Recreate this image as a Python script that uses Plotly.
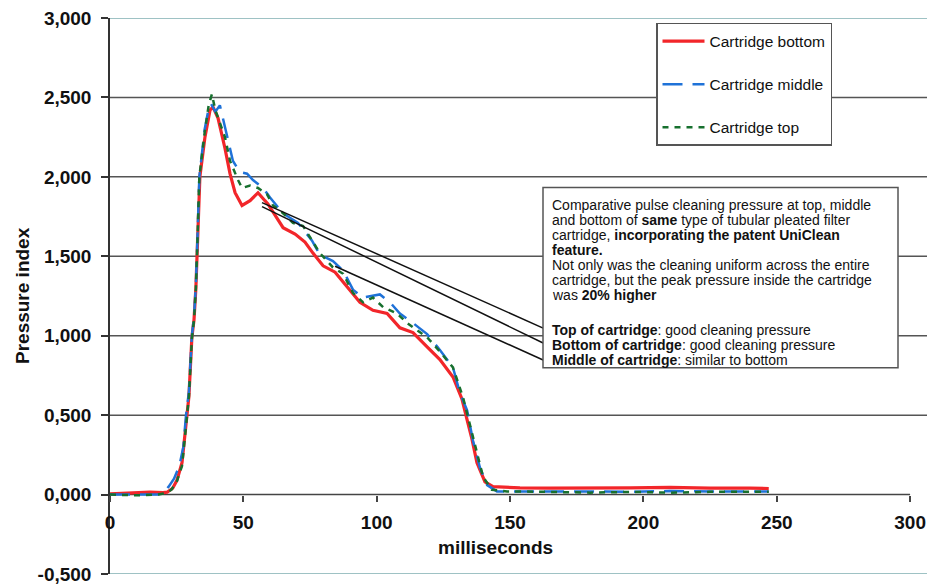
import plotly.graph_objects as go

# ---------------- data (ms, pressure index) ----------------
ms_bottom = [0, 8, 15, 19.9, 21.4, 23.5, 25.1, 27.0, 28.0, 28.8, 29.6, 30.7, 31.5, 32.2, 32.8,
             33.7, 35.6, 37.5, 38.6, 40.5, 43.1, 45.0, 46.9, 49.5, 52.5, 55.5, 58.1, 59.2, 62.6,
             64.9, 69.4, 73.1, 76.1, 79.9, 84.4, 88.9, 93.7, 98.6, 103.9, 108.7, 113.6, 118.9,
             123.7, 128.6, 132.0, 133.9, 135.7, 137.6, 140.6, 143.6, 148.9, 153.7, 165, 180, 195,
             210, 225, 240, 247]
p_bottom = [0.005, 0.012, 0.015, 0.012, 0.015, 0.04, 0.09, 0.20, 0.35, 0.50, 0.62, 0.99, 1.10,
            1.30, 1.60, 2.00, 2.25, 2.42, 2.44, 2.37, 2.18, 2.02, 1.90, 1.82, 1.85, 1.90, 1.85,
            1.83, 1.74, 1.68, 1.64, 1.59, 1.52, 1.44, 1.40, 1.31, 1.21, 1.16, 1.14, 1.05, 1.02,
            0.93, 0.85, 0.74, 0.60, 0.47, 0.35, 0.20, 0.08, 0.05, 0.045, 0.042, 0.04, 0.04, 0.042,
            0.045, 0.04, 0.04, 0.038]

ms_middle = [0, 10, 18, 20, 22, 24, 26, 27.5, 28.5, 29.6, 30.7, 31.5, 32.2, 32.8, 33.5, 35.5,
             37.0, 37.9, 39.5, 41.2, 42.5, 43.9, 46.1, 48.7, 51.4, 53.6, 57.4, 60.0, 64.9, 70.5,
             75.7, 78.7, 83.6, 87.4, 91.1, 94.9, 101.2, 105.0, 108.7, 113.6, 118.9, 123.7, 128.6,
             131.2, 133.9, 136.1, 138.7, 141.4, 145.1, 150, 165, 180, 195, 210, 225, 240, 247]
p_middle = [0.0, 0.0, 0.0, 0.01, 0.05, 0.10, 0.18, 0.30, 0.50, 0.65, 1.00, 1.12, 1.32, 1.62,
            2.00, 2.30, 2.43, 2.46, 2.41, 2.45, 2.36, 2.27, 2.10, 2.03, 2.02, 1.98, 1.93, 1.87,
            1.77, 1.71, 1.60, 1.51, 1.47, 1.41, 1.29, 1.24, 1.26, 1.21, 1.14, 1.08, 1.01, 0.91,
            0.80, 0.64, 0.53, 0.34, 0.17, 0.06, 0.02, 0.02, 0.022, 0.02, 0.018, 0.022, 0.02, 0.02,
            0.02]

ms_top = [0, 10, 18, 21, 23, 25, 27, 28, 28.8, 29.6, 30.7, 31.5, 32.2, 32.8, 33.5, 35.5, 37.0,
          38.2, 39.5, 41.0, 43.1, 45.0, 46.9, 48.0, 49.5, 52.5, 55.5, 58.9, 61.1, 63.7, 68.6,
          72.4, 75.0, 78.7, 83.6, 87.4, 91.1, 94.9, 98.6, 102.4, 107.6, 111.4, 115.1, 118.9,
          123.7, 128.6, 132.4, 135.0, 137.6, 139.9, 143.2, 148.9, 165, 180, 195, 210, 225, 240,
          247]
p_top = [0.0, -0.005, 0.0, 0.01, 0.03, 0.08, 0.18, 0.33, 0.48, 0.62, 0.98, 1.10, 1.30, 1.60,
         2.00, 2.28, 2.45, 2.52, 2.42, 2.35, 2.25, 2.10, 2.02, 1.98, 1.93, 1.945, 1.93, 1.89,
         1.82, 1.79, 1.71, 1.69, 1.62, 1.52, 1.43, 1.39, 1.27, 1.21, 1.24, 1.18, 1.14, 1.08,
         1.035, 0.99, 0.90, 0.80, 0.61, 0.43, 0.26, 0.11, 0.03, 0.02, 0.017, 0.012, 0.017, 0.012,
         0.017, 0.015, 0.017]

x_ticks = [0, 50, 100, 150, 200, 250, 300]
y_ticks = [-0.5, 0.0, 0.5, 1.0, 1.5, 2.0, 2.5, 3.0]
y_labels = ["-0,500", "0,000", "0,500", "1,000", "1,500", "2,000", "2,500", "3,000"]
grid_vals = [0.5, 1.0, 1.5, 2.0, 2.5]

note_lines = [
    "Comparative pulse cleaning pressure at top, middle",
    "and bottom of <b>same</b> type of tubular pleated filter",
    "cartridge, <b>incorporating the patent UniClean</b>",
    "<b>feature.</b>",
    "Not only was the cleaning uniform across the entire",
    "cartridge, but the peak pressure inside the cartridge",
    "was <b>20% higher</b>",
    "<b>Top of cartridge</b>: good cleaning pressure",
    "<b>Bottom of cartridge</b>: good cleaning pressure",
    "<b>Middle of cartridge</b>: similar to bottom",
]
note_py = [205, 220, 235, 250, 265, 280, 295, 330, 345, 360]

# callout lines: (x0, y0, x1, y1) in data units
callouts = [
    (57.0, 1.838, 162.4, 1.048),
    (57.0, 1.813, 162.4, 0.954),
    (84.4, 1.437, 162.4, 0.847),
]

# ---------------- layout geometry ----------------
# page body has an 8px margin, so the figure starts at (8, 8) in the window
OFF = 8
W, H = 935 - OFF, 585 - OFF
L, T = 110 - OFF, 17 - OFF
R = 0
B = H - (575 - OFF)
PW, PH = W - L - R, H - T - B
FONT = "Liberation Sans, Arial, sans-serif"


def px_x(px):
    return (px - OFF - L) / PW


def px_y(py):
    return 1 - (py - OFF - T) / PH


fig = go.Figure()
fig.add_trace(go.Scatter(x=ms_bottom, y=p_bottom, mode="lines", name="Cartridge bottom",
                         legendgroup="b", line=dict(color="#f2262a", width=3.2)))
fig.add_trace(go.Scatter(x=ms_middle, y=p_middle, mode="lines", name="Cartridge middle",
                         legendgroup="m", line=dict(color="#1f72d8", width=2.5, dash="20px,10px")))
fig.add_trace(go.Scatter(x=ms_top, y=p_top, mode="lines", name="Cartridge top",
                         legendgroup="t", line=dict(color="#17702e", width=2.5, dash="6px,6px")))

shapes = []
for v in grid_vals:
    shapes.append(dict(type="line", xref="paper", x0=0, x1=1, yref="y", y0=v, y1=v,
                       line=dict(color="#555555", width=1.5), layer="below"))
for v in [3.0, -0.5]:
    shapes.append(dict(type="line", xref="paper", x0=0, x1=1, yref="y", y0=v, y1=v,
                       line=dict(color="#7eaeb0", width=1.5), layer="below"))
# x axis line at zero, only up to last tick
shapes.append(dict(type="line", xref="x", x0=x_ticks[0], x1=x_ticks[-1], yref="y", y0=0, y1=0,
                   line=dict(color="#444444", width=1.5), layer="below"))
for (x0, y0, x1, y1) in callouts:
    shapes.append(dict(type="line", xref="x", yref="y", x0=x0, y0=y0, x1=x1, y1=y1,
                       line=dict(color="#111111", width=1.5), layer="above"))
# note box
shapes.append(dict(type="rect", xref="paper", yref="paper", x0=px_x(543), x1=px_x(898),
                   y0=px_y(368), y1=px_y(187), line=dict(color="#555555", width=1.5),
                   fillcolor="white", layer="above"))

annotations = []
for txt, py in zip(note_lines, note_py):
    annotations.append(dict(text=txt, xref="paper", yref="paper", x=px_x(550), y=px_y(py),
                            xanchor="left", yanchor="middle", showarrow=False, align="left",
                            font=dict(family=FONT, size=14, color="#111111")))
annotations.append(dict(text="<b>Pressure index</b>", xref="paper", yref="paper",
                        x=px_x(22), y=px_y(296), textangle=-90, showarrow=False,
                        xanchor="center", yanchor="middle",
                        font=dict(family=FONT, size=19, color="#111111")))
annotations.append(dict(text="<b>milliseconds</b>", xref="paper", yref="paper",
                        x=px_x(495), y=px_y(548), showarrow=False,
                        xanchor="center", yanchor="middle",
                        font=dict(family=FONT, size=19, color="#111111")))

tick_font = dict(size=19, family=FONT, color="#111111", weight="bold")

fig.update_layout(
    width=W, height=H,
    margin=dict(l=L, r=R, t=T, b=B, pad=0),
    paper_bgcolor="white", plot_bgcolor="white",
    font=dict(family=FONT, color="#111111"),
    xaxis=dict(range=[0, PW / 2.667], tickvals=x_ticks, ticktext=[str(v) for v in x_ticks],
               anchor="free", position=0.5 / 3.5, showline=False, showgrid=False,
               zeroline=False, ticks="outside", ticklen=6, tickwidth=1.5, tickcolor="#444444",
               ticklabelstandoff=5, ticklabeloverflow="allow", tickfont=tick_font),
    yaxis=dict(range=[-0.5, 3.0], tickvals=y_ticks, ticktext=y_labels, showline=True,
               linecolor="#333333", linewidth=1.5, showgrid=False, zeroline=False,
               ticks="outside", ticklen=7, tickwidth=1.5, tickcolor="#333333",
               ticklabelstandoff=6, ticklabeloverflow="allow", tickfont=tick_font),
    legend=dict(x=px_x(656), y=px_y(22), xanchor="left", yanchor="top",
                bgcolor="white", bordercolor="#555555", borderwidth=1.5,
                font=dict(size=15.5, family=FONT, color="#111111"),
                traceorder="grouped", tracegroupgap=20, itemwidth=42),
    shapes=shapes,
    annotations=annotations,
    showlegend=True,
)

fig.write_html("out.html")
